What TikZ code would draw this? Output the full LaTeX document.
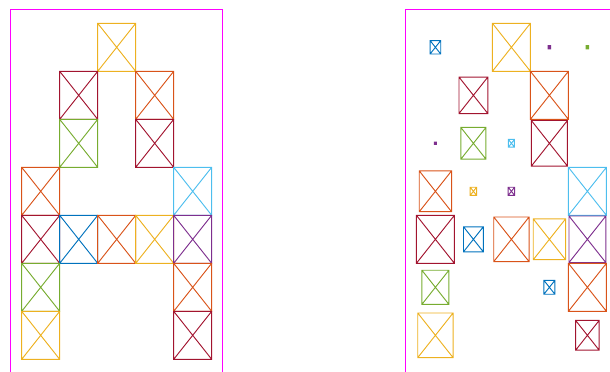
\documentclass[tikz,border=0pt]{standalone}
\definecolor{mblue}{HTML}{0072BD}
\definecolor{morange}{HTML}{D95319}
\definecolor{myellow}{HTML}{EDB120}
\definecolor{mpurple}{HTML}{7E2F8E}
\definecolor{mgreen}{HTML}{77AC30}
\definecolor{mcyan}{HTML}{4DBEEE}
\definecolor{mred}{HTML}{A2142F}
\definecolor{mframe}{HTML}{FF00FF}
\tikzset{xcell/.style={line width=0.7pt}, frame/.style={mframe, line width=0.75pt}}
\begin{document}
\begin{tikzpicture}[x=0.75pt, y=-0.75pt]
            \useasboundingbox (0,0) rectangle (610,371);
            % the two frames, open at the bottom
            \draw[frame] (10.7,380) -- (10.7,9.3) -- (222.3,9.3) -- (222.3,380);
            \draw[frame] (405.3,380) -- (405.3,9.3) -- (620,9.3) -- (620,380);
            % left: full cells
            \foreach \c/\r/\col in {2/0/myellow, 1/1/mred, 3/1/morange, 1/2/mgreen, 3/2/mred,
                                    0/3/morange, 4/3/mcyan, 0/4/mred, 1/4/mblue, 2/4/morange,
                                    3/4/myellow, 4/4/mpurple, 0/5/mgreen, 4/5/morange,
                                    0/6/myellow, 4/6/mred} {
                \pgfmathsetmacro{\xa}{21.7+38*\c}
                \pgfmathsetmacro{\ya}{23.3+48*\r}
                \draw[xcell, \col] (\xa,\ya) rectangle ++(38,48) ++(-38,-48) -- ++(38,48) ++(-38,0) -- ++(38,-48);
            }
            % right: scaled cells
            \foreach \c/\r/\col/\s in {0/0/mblue/0.28, 2/0/myellow/1, 3/0/mpurple/0.07, 4/0/mgreen/0.07,
                                       1/1/mred/0.76, 3/1/morange/1, 0/2/mpurple/0.05, 1/2/mgreen/0.66,
                                       2/2/mcyan/0.16, 3/2/mred/0.95, 0/3/morange/0.85, 1/3/myellow/0.17,
                                       2/3/mpurple/0.17, 4/3/mcyan/1, 0/4/mred/1, 1/4/mblue/0.52,
                                       2/4/morange/0.93, 3/4/myellow/0.85, 4/4/mpurple/0.97,
                                       0/5/mgreen/0.71, 3/5/mblue/0.29, 4/5/morange/1,
                                       0/6/myellow/0.93, 4/6/mred/0.62} {
                \pgfmathsetmacro{\w}{38*\s}
                \pgfmathsetmacro{\h}{48*\s}
                \pgfmathsetmacro{\xa}{435.4+38*\c-\w/2}
                \pgfmathsetmacro{\ya}{47.3+48*\r-\h/2}
                \draw[xcell, \col] (\xa,\ya) rectangle ++(\w,\h) ++(-\w,-\h) -- ++(\w,\h) ++(-\w,0) -- ++(\w,-\h);
            }
        \end{tikzpicture}
\end{document}
